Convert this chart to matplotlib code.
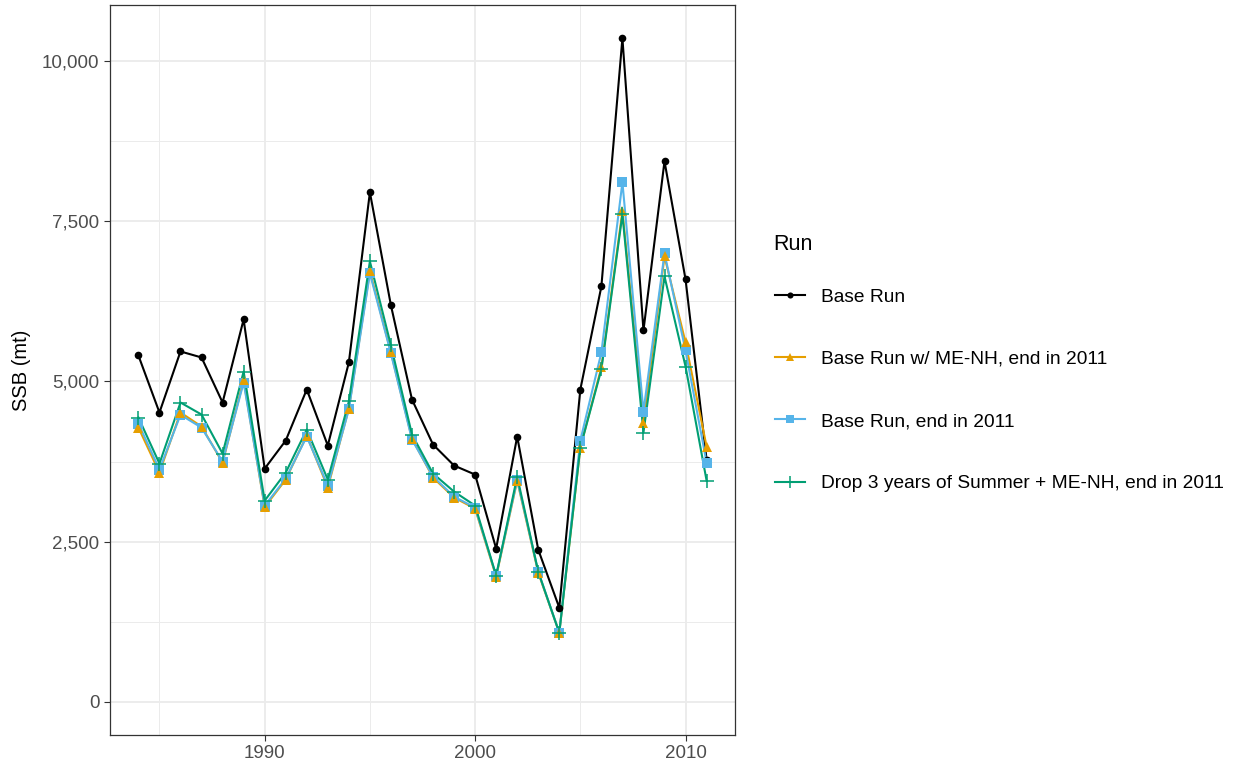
import numpy as np
import matplotlib.pyplot as plt
from matplotlib.ticker import FuncFormatter, MultipleLocator
from matplotlib.lines import Line2D

plt.rcParams['font.family'] = ['Liberation Sans', 'DejaVu Sans']

years = np.arange(1984, 2012)

base_run = [5406, 4516, 5469, 5375, 4672, 5969, 3640, 4078, 4875, 4000,
            5297, 7953, 6188, 4719, 4016, 3688, 3547, 2391, 4141, 2375,
            1469, 4875, 6484, 10359, 5797, 8438, 6594, 3780]
base_menh = [4281, 3578, 4516, 4297, 3734, 5016, 3040, 3469, 4156, 3344,
             4578, 6719, 5453, 4109, 3500, 3188, 3016, 1953, 3453, 2016,
             1078, 3969, 5219, 7656, 4359, 6953, 5609, 3984]
base_2011 = [4344, 3625, 4480, 4280, 3750, 4984, 3062, 3484, 4141, 3375,
             4563, 6688, 5438, 4094, 3516, 3203, 3031, 1969, 3469, 2031,
             1078, 4078, 5453, 8109, 4531, 7000, 5484, 3734]
drop_summer = [4438, 3719, 4672, 4484, 3875, 5156, 3140, 3578, 4250, 3469,
               4688, 6875, 5563, 4172, 3563, 3281, 3063, 1969, 3516, 2031,
               1078, 3969, 5188, 7609, 4203, 6641, 5234, 3453]

run_names = ["Base Run",
             "Base Run w/ ME-NH, end in 2011",
             "Base Run, end in 2011",
             "Drop 3 years of Summer + ME-NH, end in 2011"]
series = [base_run, base_menh, base_2011, drop_summer]
colors = ["#000000", "#E69F00", "#56B4E9", "#009E73"]
markers = ["o", "^", "s", "+"]
msizes = [5.5, 7.5, 6.5, 10]

fig = plt.figure(figsize=(12.38, 7.69), dpi=100)
ax = fig.add_axes([110/1238, 1-735/769, 625/1238, 730/769])

# lines first, then points
for vals, c in zip(series, colors):
    ax.plot(years, vals, color=c, lw=1.5, zorder=3)
# squares under triangles, as in the original
for i in [0, 2, 1, 3]:
    m = markers[i]
    ax.plot(years, series[i], ls='none', marker=m, color=colors[i],
            ms=msizes[i], mew=1.1 if m == '+' else 0, zorder=4)

ax.set_xlim(1984 - 1.35, 2011 + 1.35)
ax.set_ylim(-518, 10877)
ax.xaxis.set_major_locator(MultipleLocator(10))
ax.xaxis.set_minor_locator(MultipleLocator(5))
ax.yaxis.set_major_locator(MultipleLocator(2500))
ax.yaxis.set_minor_locator(MultipleLocator(1250))
ax.yaxis.set_major_formatter(FuncFormatter(lambda v, p: f"{int(v):,}"))

ax.grid(which='major', color='#EBEBEB', lw=1.3, zorder=0)
ax.grid(which='minor', color='#EBEBEB', lw=0.7, zorder=0)
ax.set_axisbelow(True)
for sp in ax.spines.values():
    sp.set_color('#333333')
    sp.set_linewidth(0.9)
ax.tick_params(which='major', length=4, color='#333333', labelsize=13.5,
               labelcolor='#4D4D4D')
ax.tick_params(which='minor', length=0)
ax.set_ylabel("SSB (mt)", fontsize=14.5, labelpad=8)

handles = [Line2D([], [], color=c, marker=m, lw=1.5, ms=s * 0.8,
                  mew=1.1 if m == '+' else 0)
           for c, m, s in zip(colors, markers, msizes)]
fig.text(773/1238, 1-244/769, "Run", fontsize=15.5, va='center', ha='left')
leg = fig.legend(handles, run_names, loc='upper left',
                 bbox_to_anchor=(758/1238, 1-271/769), frameon=False,
                 fontsize=13.8, labelspacing=2.34,
                 handlelength=1.55, handletextpad=0.85)

fig.savefig("out.png", dpi=100)
